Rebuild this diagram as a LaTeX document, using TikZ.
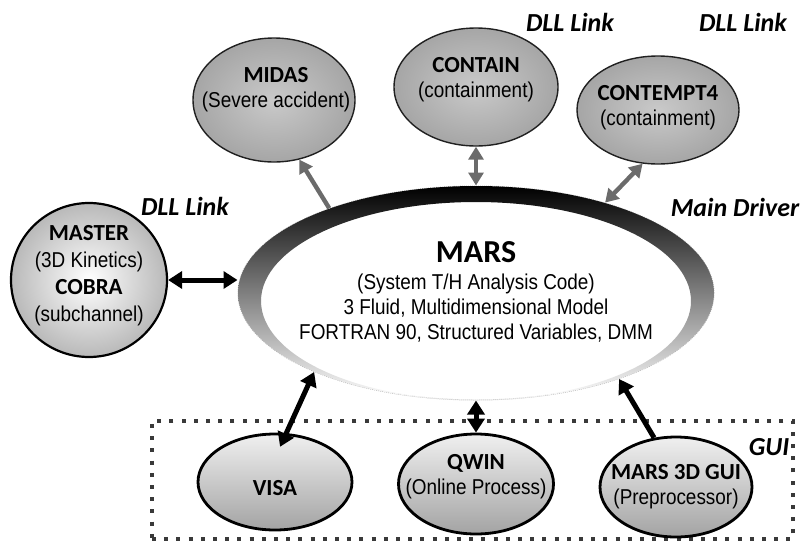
\documentclass[tikz,border=0pt]{standalone}
\usepackage{fontspec}
\setmainfont[FakeStretch=0.88]{Liberation Sans}
\newfontfamily\calfont{Carlito}
\usetikzlibrary{shapes.geometric,arrows.meta,positioning}

\newcommand{\progname}[1]{{\calfont\bfseries\fontsize{23}{25}\selectfont #1}}

\begin{document}
\begin{tikzpicture}[x=1pt,y=-1pt]
      \tikzset{
        topball/.style={ellipse,draw=gray!25!black,line width=1.4pt,inner color=gray!42,outer color=gray!70},
        sideball/.style={ellipse,draw=black,line width=2.2pt,inner color=white,outer color=gray!55},
        guiball/.style={ellipse,draw=black,line width=2.8pt,top color=gray!12,bottom color=gray!72},
        lbl/.style={align=center,inner sep=0pt,font=\fontsize{21.5}{25}\selectfont},
        side/.style={inner sep=0pt,font=\calfont\bfseries\itshape\fontsize{26}{28}\selectfont},
        greyarr/.style={line width=4.4pt,draw=black!58,-{Triangle[width=15pt,length=13pt]}},
        greydbl/.style={greyarr,{Triangle[width=15pt,length=13pt]}-{Triangle[width=15pt,length=13pt]}},
        blackdbl/.style={line width=5pt,draw=black,{Triangle[width=17pt,length=14pt]}-{Triangle[width=17pt,length=14pt]}},
        blackarr/.style={line width=5pt,draw=black,-{Triangle[width=17pt,length=14pt]}},
        guidots/.style={draw=gray!45!black,line width=4pt,dash pattern=on 4pt off 8.2pt}
      }
      \useasboundingbox (0,0) rectangle (805,549);

      \node[guidots,minimum width=641pt,minimum height=118pt,inner sep=0pt] (guibox) at (472.5,480) {};

      \node[topball,minimum width=162pt,minimum height=124pt] (midas) at (274,100) {};
      \node[topball,minimum width=164pt,minimum height=118pt] (contain) at (476,87) {};
      \node[topball,minimum width=162pt,minimum height=108pt] (contempt) at (658,110) {};
      \node[sideball,minimum width=156pt,minimum height=154pt] (master) at (89,280) {};

      \node[ellipse,draw=gray!60,densely dotted,line width=1pt,fill=white,minimum width=476pt,minimum height=214pt] (mars) at (476,293) {};
      \path[even odd rule,top color=black,middle color=gray!55,bottom color=white]
            (476,293) ellipse [x radius=238,y radius=107]
            (476,301) ellipse [x radius=215,y radius=99];

      \node[guiball,minimum width=154pt,minimum height=96pt] (visa) at (275,482) {};
      \node[guiball,minimum width=155pt,minimum height=100pt] (qwin) at (476,484) {};
      \node[guiball,minimum width=152pt,minimum height=100pt] (gui3d) at (676,487) {};

      \node[lbl] (midas-t) at (276,90) {\progname{MIDAS}\\(Severe accident)};
      \node[lbl] (contain-t) at (476,80) {\progname{CONTAIN}\\(containment)};
      \node[lbl] (contempt-t) at (658,108) {\progname{CONTEMPT4}\\(containment)};
      \node[lbl,font=\fontsize{21.5}{27}\selectfont] (master-t) at (89,276)
            {\progname{MASTER}\\(3D Kinetics)\\\progname{COBRA}\\(subchannel)};
      \node[lbl] (mars-t) at (476,292)
            {{\calfont\bfseries\fontsize{32}{34}\selectfont MARS}\\[2pt](System T/H Analysis Code)\\
             3 Fluid, Multidimensional Model\\FORTRAN 90, Structured Variables, DMM};
      \node[lbl] (visa-t) at (275,488) {\progname{VISA}};
      \node[lbl] (qwin-t) at (476,477) {\progname{QWIN}\\(Online Process)};
      \node[lbl] (gui3d-t) at (676,487) {\progname{MARS 3D GUI}\\(Preprocessor)};

      \node[side] (dll1) at (570,22) {DLL Link};
      \node[side] (dll2) at (743,22) {DLL Link};
      \node[side] (dll3) at (185,206) {DLL Link};
      \node[side] (driver) at (735,207) {Main Driver};
      \node[side] (guitag) at (769,447) {GUI};

      \draw[greyarr] (mars.150) -- (midas.-67);
      \draw[greydbl] (contain.south) -- (contain.south |- mars.north);
      \draw[greydbl] (contempt.-106) -- (mars.35);
      \draw[blackdbl] (master.east) -- (master.east -| mars.west);
      \draw[blackdbl,shorten <=-15pt] (visa.77) -- (mars.-154);
      \draw[blackdbl] (qwin.north) -- (qwin.north |- mars.south);
      \draw[blackarr] (gui3d.114) -- (mars.-31);
    \end{tikzpicture}
\end{document}
